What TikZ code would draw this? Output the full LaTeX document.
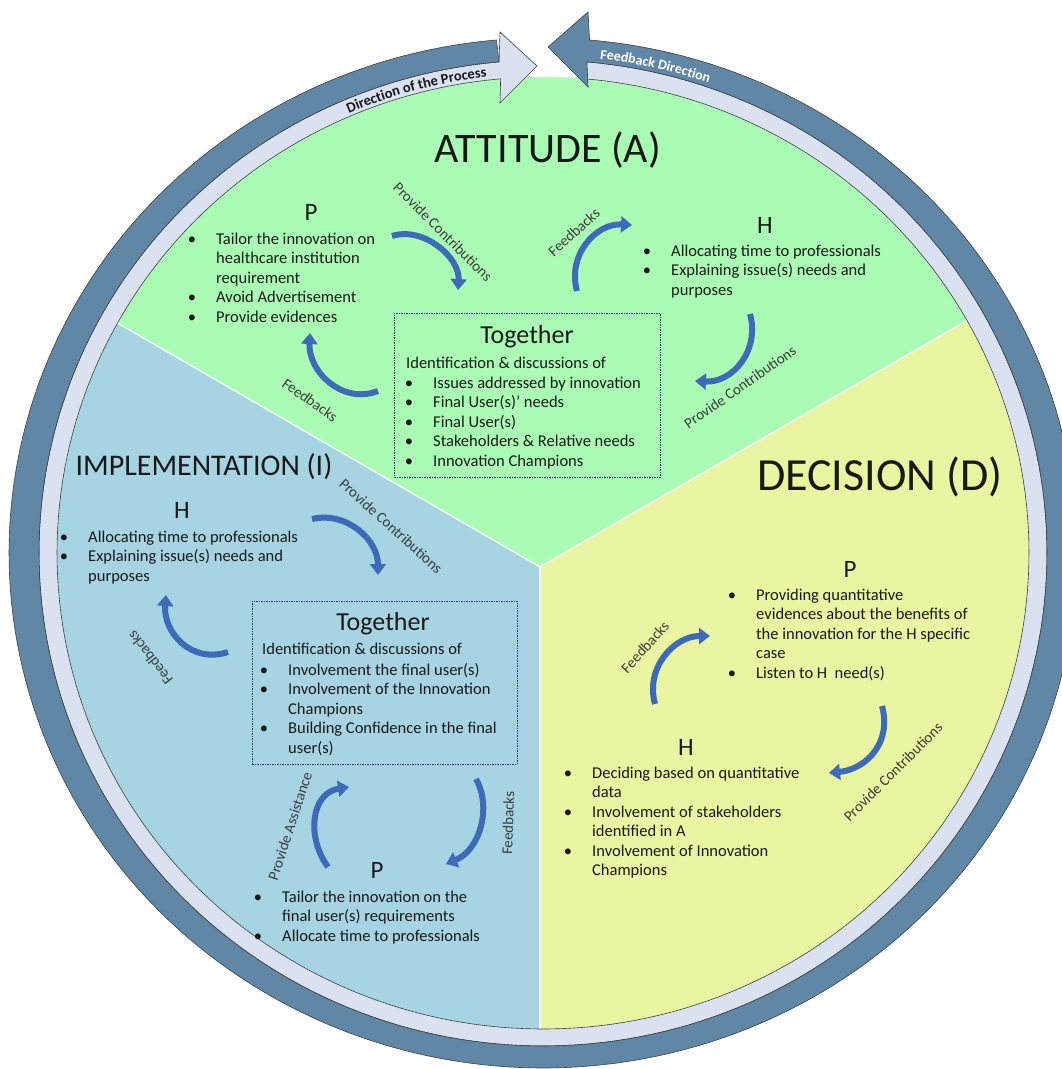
\documentclass[tikz,border=0pt]{standalone}
\usepackage{fontspec}
\setmainfont{Carlito}
\usetikzlibrary{arrows.meta,decorations.text}
\definecolor{darkband}{RGB}{96,135,166}
\definecolor{lightband}{RGB}{218,226,242}
\definecolor{secA}{RGB}{170,252,180}
\definecolor{secI}{RGB}{166,212,226}
\definecolor{secD}{RGB}{233,245,160}
\definecolor{arrowblue}{RGB}{62,106,186}
\definecolor{boxline}{RGB}{40,60,110}
\definecolor{ink}{RGB}{25,25,25}
\newcommand{\bi}{\makebox[0pt][r]{\textbullet\hspace{20pt}}}
\newcommand{\blk}[1]{\begin{tabular}[t]{@{}l@{}}#1\end{tabular}}
\begin{document}
\begin{tikzpicture}[x=1pt,y=-1pt,
 txt/.style={inner sep=0pt, anchor=base west, text=ink, font=\fontsize{16.5}{19.5}\selectfont},
 headtxt/.style={inner sep=0pt, anchor=base, text=ink, font=\fontsize{25}{25}\selectfont},
 ttl/.style={inner sep=0pt, anchor=base, text=ink},
 lbl/.style={inner sep=0pt, text=ink!85, font=\fontsize{15}{15}\selectfont},
 carrow/.style={draw=arrowblue, line width=6pt, -{Triangle[length=11pt,width=16pt]}},
 tbox/.style={draw=boxline, line width=0.7pt, dash pattern=on 1.5pt off 1pt, inner sep=0pt, anchor=north west},
 band/.style={draw=black!75, line width=0.6pt}]
\useasboundingbox (0,0) rectangle (1062,1069);
\clip (0,0) rectangle (1062,1069);
% ---------- pie ----------
\coordinate (ctr) at (540,567);
\begin{scope}
\clip (543,553) ellipse[x radius=486, y radius=476];
\fill[secA] (0,0) rectangle (1100,1100);
\fill[secI] (ctr) -- (-100,197.5) -- (-100,1100) -- (540,1100) -- cycle;
\fill[secD] (ctr) -- (1150,214.8) -- (1150,1100) -- (540,1100) -- cycle;
\draw[white, line width=1.3pt] (-100,197.5) -- (ctr) -- (1150,214.8);
\draw[white, line width=1.3pt] (ctr) -- (540,1100);
\end{scope}
% ---------- ring: direction of the process (light) ----------
\filldraw[band, fill=lightband]
  plot[domain=-85:265, samples=240, variable=\t] ({543+486*cos(\t)},{553+476*sin(\t)})
  -- (500,103) -- (537,66) -- (500,32)
  -- plot[domain=265:-85, samples=240, variable=\t] ({543+504*cos(\t)},{553+493*sin(\t)})
  -- cycle;
% ---------- ring: feedback direction (dark) ----------
\filldraw[band, fill=darkband]
  plot[domain=-95:-445, samples=240, variable=\t] ({543+504*cos(\t)},{553+493*sin(\t)})
  -- (588,87) -- (548,47) -- (588,12)
  -- plot[domain=-445:-95, samples=240, variable=\t] ({543+534*cos(\t)},{553+515*sin(\t)})
  -- cycle;
\path[decorate, decoration={text along path, text align=center, text color=ink,
  text={|\fontsize{14.5}{14.5}\bfseries\selectfont|Direction of the Process}}]
  plot[domain=-118:-92, samples=40, variable=\t] ({543+489*cos(\t)},{553+479*sin(\t)});
\path[decorate, decoration={text along path, text align=center, text color=white,
  text={|\fontsize{14}{14}\bfseries\selectfont|Feedback Direction}}]
  plot[domain=-90:-64.5, samples=40, variable=\t] ({543+508*cos(\t)},{553+497*sin(\t)});
% ---------- titles ----------
\node[ttl, font=\fontsize{42}{42}\selectfont] (tA) at (548,162) {ATTITUDE (A)};
\node[ttl, font=\fontsize{30}{30}\selectfont] (tI) at (204,475) {IMPLEMENTATION (I)};
\node[ttl, font=\fontsize{46}{46}\selectfont] (tD) at (880,490) {DECISION (D)};
% ---------- ATTITUDE ----------
\node[headtxt] (aP) at (311,220) {P};
\node[txt] (aPl) at (216,244) {\blk{\bi Tailor the innovation on\\ healthcare institution\\ requirement\\ \bi Avoid Advertisement\\ \bi Provide evidences}};
\node[headtxt] (aH) at (765,233) {H};
\node[txt] (aHl) at (671,256) {\blk{\bi Allocating time to professionals\\ \bi Explaining issue(s) needs and\\ purposes}};
\node[tbox, minimum width=266pt, minimum height=164pt] (aT) at (394,313) {};
\node[headtxt, font=\fontsize{26}{26}\selectfont] (aTt) at (527,343) {Together};
\node[txt] (aTi) at (406,368) {Identification \& discussions of};
\node[txt] (aTl) at (433,388) {\blk{\bi Issues addressed by innovation\\ \bi Final User(s)’ needs\\ \bi Final User(s)\\ \bi Stakeholders \& Relative needs\\ \bi Innovation Champions}};
\coordinate (a1s) at (392,236); \coordinate (a1e) at (458,290);
\draw[carrow] (a1s) .. controls +(32,-10) and +(2,-32) .. (a1e);
\coordinate (a2s) at (378,391); \coordinate (a2e) at (310,333);
\draw[carrow] (a2s) .. controls +(-36,14) and +(-2,38) .. (a2e);
\coordinate (a3s) at (577,291); \coordinate (a3e) at (632,225);
\draw[carrow] (a3s) .. controls +(-10,-36) and +(-36,-2) .. (a3e);
\coordinate (a4s) at (750,314); \coordinate (a4e) at (695,381);
\draw[carrow] (a4s) .. controls +(10,36) and +(38,2) .. (a4e);
\node[lbl, rotate=-45] (a1l) at (443,232) {Provide Contributions};
\node[lbl, rotate=-35] (a2l) at (310,400) {Feedbacks};
\node[lbl, rotate=42] (a3l) at (574,232) {Feedbacks};
\node[lbl, rotate=35] (a4l) at (740,387) {Provide Contributions};
% ---------- IMPLEMENTATION ----------
\node[headtxt] (iH) at (182,518) {H};
\node[txt] (iHl) at (88,542) {\blk{\bi Allocating time to professionals\\ \bi Explaining issue(s) needs and\\ purposes}};
\node[tbox, minimum width=265pt, minimum height=163pt] (iT) at (252,601) {};
\node[headtxt, font=\fontsize{26}{26}\selectfont] (iTt) at (383,630) {Together};
\node[txt] (iTi) at (262,654) {Identification \& discussions of};
\node[txt] (iTl) at (288,675) {\blk{\bi Involvement the final user(s)\\ \bi Involvement of the Innovation\\ Champions\\ \bi Building Confidence in the final\\ user(s)}};
\node[headtxt] (iP) at (377,878) {P};
\node[txt] (iPl) at (282,902) {\blk{\bi Tailor the innovation on the\\ final user(s) requirements\\ \bi Allocate time to professionals}};
\coordinate (i1s) at (312,519); \coordinate (i1e) at (378,575);
\draw[carrow] (i1s) .. controls +(35,-8) and +(0,-35) .. (i1e);
\coordinate (i2s) at (228,652); \coordinate (i2e) at (166,595);
\draw[carrow] (i2s) .. controls +(-36,12) and +(-3,38) .. (i2e);
\coordinate (i3s) at (328,867); \coordinate (i3e) at (349,787);
\draw[carrow] (i3s) .. controls +(-22,-30) and +(-38,6) .. (i3e);
\coordinate (i4s) at (476,779); \coordinate (i4e) at (446,864);
\draw[carrow] (i4s) .. controls +(16,28) and +(34,-14) .. (i4e);
\node[lbl, rotate=-42] (i1l) at (391,526) {Provide Contributions};
\node[lbl, rotate=128] (i2l) at (150,658) {Feedbacks};
\node[lbl, rotate=72] (i3l) at (290,826) {Provide Assistance};
\node[lbl, rotate=88] (i4l) at (508,823) {Feedbacks};
% ---------- DECISION ----------
\node[headtxt] (dP) at (850,577) {P};
\node[txt] (dPl) at (756,600) {\blk{\bi Providing quantitative\\ evidences about the benefits of\\ the innovation for the H specific\\ case\\ \bi Listen to H\ \ need(s)}};
\node[headtxt] (dH) at (686,755) {H};
\node[txt] (dHl) at (592,778) {\blk{\bi Deciding based on quantitative\\ data\\ \bi Involvement of stakeholders\\ identified in A\\ \bi Involvement of Innovation\\ Champions}};
\coordinate (d1s) at (655,704); \coordinate (d1e) at (710,636);
\draw[carrow] (d1s) .. controls +(-10,-36) and +(-36,0) .. (d1e);
\coordinate (d2s) at (882,706); \coordinate (d2e) at (829,773);
\draw[carrow] (d2s) .. controls +(10,36) and +(38,-4) .. (d2e);
\node[lbl, rotate=48] (d1l) at (645,647) {Feedbacks};
\node[lbl, rotate=45] (d2l) at (893,772) {Provide Contributions};
\end{tikzpicture}
\end{document}
